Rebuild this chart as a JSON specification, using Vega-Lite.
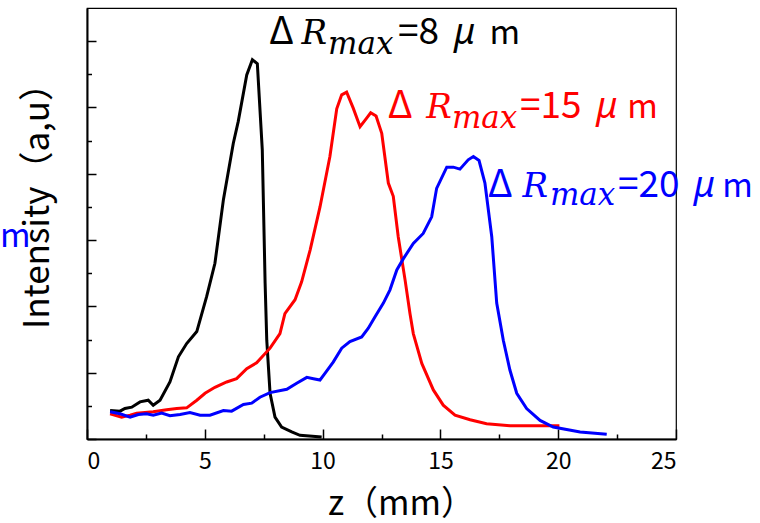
{
  "$schema": "https://vega.github.io/schema/vega-lite/v6.json",
  "width": 589,
  "height": 431,
  "autosize": "none",
  "padding": {"left": 87, "top": 8, "right": 84, "bottom": 84},
  "background": "white",
  "config": {
    "view": {"stroke": "#000000", "strokeWidth": 1.2},
    "axis": {"grid": false, "domainColor": "#000000", "domainWidth": 2, "tickColor": "#000000", "tickWidth": 1.5, "labelFont": "Noto Sans CJK JP", "titleFont": "Noto Sans CJK JP", "labelColor": "#000000", "titleColor": "#000000", "titleFontWeight": "normal"}
  },
  "datasets": {
    "curves": [
      {"series": "8", "z": 0.98, "I": 0.43},
      {"series": "8", "z": 1.40, "I": 0.42},
      {"series": "8", "z": 1.61, "I": 0.46},
      {"series": "8", "z": 1.90, "I": 0.48},
      {"series": "8", "z": 2.25, "I": 0.56},
      {"series": "8", "z": 2.60, "I": 0.585},
      {"series": "8", "z": 2.81, "I": 0.51},
      {"series": "8", "z": 3.10, "I": 0.585},
      {"series": "8", "z": 3.52, "I": 0.86},
      {"series": "8", "z": 3.88, "I": 1.24},
      {"series": "8", "z": 4.23, "I": 1.44},
      {"series": "8", "z": 4.66, "I": 1.62},
      {"series": "8", "z": 5.08, "I": 2.15},
      {"series": "8", "z": 5.43, "I": 2.65},
      {"series": "8", "z": 5.79, "I": 3.61},
      {"series": "8", "z": 6.21, "I": 4.46},
      {"series": "8", "z": 6.42, "I": 4.79},
      {"series": "8", "z": 6.78, "I": 5.49},
      {"series": "8", "z": 7.02, "I": 5.72},
      {"series": "8", "z": 7.23, "I": 5.66},
      {"series": "8", "z": 7.44, "I": 4.36},
      {"series": "8", "z": 7.56, "I": 2.35},
      {"series": "8", "z": 7.63, "I": 1.49},
      {"series": "8", "z": 7.77, "I": 0.69},
      {"series": "8", "z": 7.98, "I": 0.33},
      {"series": "8", "z": 8.26, "I": 0.18},
      {"series": "8", "z": 8.69, "I": 0.106},
      {"series": "8", "z": 9.04, "I": 0.056},
      {"series": "8", "z": 9.96, "I": 0.03},
      {"series": "15", "z": 0.98, "I": 0.38},
      {"series": "15", "z": 1.47, "I": 0.33},
      {"series": "15", "z": 1.83, "I": 0.36},
      {"series": "15", "z": 2.11, "I": 0.39},
      {"series": "15", "z": 2.81, "I": 0.41},
      {"series": "15", "z": 3.38, "I": 0.44},
      {"series": "15", "z": 3.81, "I": 0.46},
      {"series": "15", "z": 4.23, "I": 0.47},
      {"series": "15", "z": 4.66, "I": 0.585},
      {"series": "15", "z": 5.01, "I": 0.69},
      {"series": "15", "z": 5.43, "I": 0.78},
      {"series": "15", "z": 5.93, "I": 0.86},
      {"series": "15", "z": 6.35, "I": 0.91},
      {"series": "15", "z": 6.78, "I": 1.06},
      {"series": "15", "z": 7.20, "I": 1.15},
      {"series": "15", "z": 7.77, "I": 1.37},
      {"series": "15", "z": 8.19, "I": 1.59},
      {"series": "15", "z": 8.40, "I": 1.89},
      {"series": "15", "z": 8.83, "I": 2.10},
      {"series": "15", "z": 9.11, "I": 2.37},
      {"series": "15", "z": 9.47, "I": 2.85},
      {"series": "15", "z": 9.89, "I": 3.50},
      {"series": "15", "z": 10.31, "I": 4.26},
      {"series": "15", "z": 10.60, "I": 4.98},
      {"series": "15", "z": 10.81, "I": 5.19},
      {"series": "15", "z": 11.02, "I": 5.23},
      {"series": "15", "z": 11.30, "I": 4.99},
      {"series": "15", "z": 11.59, "I": 4.71},
      {"series": "15", "z": 11.87, "I": 4.84},
      {"series": "15", "z": 12.04, "I": 4.92},
      {"series": "15", "z": 12.27, "I": 4.87},
      {"series": "15", "z": 12.51, "I": 4.61},
      {"series": "15", "z": 12.79, "I": 3.86},
      {"series": "15", "z": 13.00, "I": 3.66},
      {"series": "15", "z": 13.21, "I": 3.05},
      {"series": "15", "z": 13.50, "I": 2.40},
      {"series": "15", "z": 13.71, "I": 1.89},
      {"series": "15", "z": 13.85, "I": 1.59},
      {"series": "15", "z": 14.21, "I": 1.14},
      {"series": "15", "z": 14.70, "I": 0.74},
      {"series": "15", "z": 15.12, "I": 0.51},
      {"series": "15", "z": 15.62, "I": 0.36},
      {"series": "15", "z": 16.26, "I": 0.29},
      {"series": "15", "z": 16.96, "I": 0.23},
      {"series": "15", "z": 17.95, "I": 0.20},
      {"series": "15", "z": 20.05, "I": 0.20},
      {"series": "20", "z": 0.98, "I": 0.41},
      {"series": "20", "z": 1.40, "I": 0.38},
      {"series": "20", "z": 1.83, "I": 0.33},
      {"series": "20", "z": 2.18, "I": 0.37},
      {"series": "20", "z": 2.53, "I": 0.38},
      {"series": "20", "z": 2.81, "I": 0.36},
      {"series": "20", "z": 3.17, "I": 0.39},
      {"series": "20", "z": 3.52, "I": 0.35},
      {"series": "20", "z": 3.95, "I": 0.37},
      {"series": "20", "z": 4.37, "I": 0.40},
      {"series": "20", "z": 4.80, "I": 0.36},
      {"series": "20", "z": 5.22, "I": 0.36},
      {"series": "20", "z": 5.79, "I": 0.43},
      {"series": "20", "z": 6.14, "I": 0.42},
      {"series": "20", "z": 6.64, "I": 0.52},
      {"series": "20", "z": 6.99, "I": 0.54},
      {"series": "20", "z": 7.34, "I": 0.63},
      {"series": "20", "z": 7.77, "I": 0.70},
      {"series": "20", "z": 8.48, "I": 0.75},
      {"series": "20", "z": 8.90, "I": 0.84},
      {"series": "20", "z": 9.33, "I": 0.93},
      {"series": "20", "z": 9.61, "I": 0.91},
      {"series": "20", "z": 9.89, "I": 0.89},
      {"series": "20", "z": 10.10, "I": 0.99},
      {"series": "20", "z": 10.45, "I": 1.16},
      {"series": "20", "z": 10.81, "I": 1.37},
      {"series": "20", "z": 11.16, "I": 1.47},
      {"series": "20", "z": 11.66, "I": 1.54},
      {"series": "20", "z": 11.94, "I": 1.67},
      {"series": "20", "z": 12.22, "I": 1.84},
      {"series": "20", "z": 12.58, "I": 2.05},
      {"series": "20", "z": 12.86, "I": 2.25},
      {"series": "20", "z": 13.15, "I": 2.55},
      {"series": "20", "z": 13.43, "I": 2.72},
      {"series": "20", "z": 13.85, "I": 2.95},
      {"series": "20", "z": 14.27, "I": 3.10},
      {"series": "20", "z": 14.63, "I": 3.35},
      {"series": "20", "z": 14.84, "I": 3.78},
      {"series": "20", "z": 15.27, "I": 4.10},
      {"series": "20", "z": 15.55, "I": 4.10},
      {"series": "20", "z": 15.83, "I": 4.07},
      {"series": "20", "z": 16.18, "I": 4.21},
      {"series": "20", "z": 16.40, "I": 4.26},
      {"series": "20", "z": 16.64, "I": 4.20},
      {"series": "20", "z": 16.89, "I": 3.86},
      {"series": "20", "z": 17.18, "I": 3.05},
      {"series": "20", "z": 17.39, "I": 2.05},
      {"series": "20", "z": 17.67, "I": 1.49},
      {"series": "20", "z": 17.95, "I": 1.04},
      {"series": "20", "z": 18.24, "I": 0.69},
      {"series": "20", "z": 18.66, "I": 0.46},
      {"series": "20", "z": 19.23, "I": 0.28},
      {"series": "20", "z": 19.79, "I": 0.18},
      {"series": "20", "z": 20.93, "I": 0.106},
      {"series": "20", "z": 22.06, "I": 0.07}
    ],
    "labels": [
      {"series": "8", "part": "delta", "text": "Δ", "z": 7.72, "I": 5.95},
      {"series": "8", "part": "R", "text": "R", "z": 9.10, "I": 5.95},
      {"series": "8", "part": "max", "text": "max", "z": 10.23, "I": 5.80},
      {"series": "8", "part": "num", "text": "=8", "z": 13.20, "I": 5.95},
      {"series": "8", "part": "mu", "text": "μ", "z": 15.58, "I": 5.95},
      {"series": "8", "part": "m", "text": "m", "z": 17.08, "I": 5.95},
      {"series": "15", "part": "delta", "text": "Δ", "z": 12.77, "I": 4.84},
      {"series": "15", "part": "R", "text": "R", "z": 14.40, "I": 4.84},
      {"series": "15", "part": "max", "text": "max", "z": 15.49, "I": 4.69},
      {"series": "15", "part": "num", "text": "=15", "z": 18.38, "I": 4.84},
      {"series": "15", "part": "mu", "text": "μ", "z": 21.62, "I": 4.84},
      {"series": "15", "part": "m", "text": "m", "z": 22.93, "I": 4.84},
      {"series": "20", "part": "delta", "text": "Δ", "z": 17.01, "I": 3.65},
      {"series": "20", "part": "R", "text": "R", "z": 18.48, "I": 3.65},
      {"series": "20", "part": "max", "text": "max", "z": 19.65, "I": 3.53},
      {"series": "20", "part": "num", "text": "=20", "z": 22.54, "I": 3.65},
      {"series": "20", "part": "mu", "text": "μ", "z": 25.75, "I": 3.65},
      {"series": "20", "part": "m", "text": "m", "z": 26.96, "I": 3.65},
      {"series": "20", "part": "m", "text": "m", "z": -3.69, "I": 2.90}
    ]
  },
  "encoding": {
    "x": {"field": "z", "type": "quantitative", "scale": {"domain": [0, 25], "nice": false, "zero": false},
      "axis": {"title": "z（mm）", "titleFontSize": 34, "labelFontSize": 23, "labelPadding": 21, "titlePadding": 14, "titleX": 314,
        "values": [0, 2.5, 5, 7.5, 10, 12.5, 15, 17.5, 20, 22.5, 25],
        "labelExpr": "datum.value % 5 === 0 ? datum.label : ''",
        "tickSize": {"condition": {"test": "datum.value % 1 === 0", "value": -10}, "value": -5}}},
    "y": {"field": "I", "type": "quantitative", "scale": {"domain": [0, 6.5], "nice": false, "zero": false},
      "axis": {"title": "Intensity（a,u）", "titleFontSize": 35, "labels": false, "titlePadding": 31, "titleY": 189,
        "values": [0, 0.5, 1, 1.5, 2, 2.5, 3, 3.5, 4, 4.5, 5, 5.5, 6],
        "tickSize": {"condition": {"test": "datum.value % 1 === 0", "value": -9}, "value": -4.5}}},
    "color": {"field": "series", "type": "nominal", "scale": {"domain": ["8", "15", "20"], "range": ["#000000", "#ff0000", "#0000ff"]}, "legend": null}
  },
  "layer": [
    {"data": {"name": "curves"}, "mark": {"type": "line", "strokeWidth": 3, "clip": true}},
    {"data": {"name": "labels"}, "transform": [{"filter": "datum.part === 'delta'"}],
      "mark": {"type": "text", "align": "left", "baseline": "alphabetic", "font": "Noto Sans CJK JP", "fontSize": 38},
      "encoding": {"text": {"field": "text"}}},
    {"data": {"name": "labels"}, "transform": [{"filter": "datum.part === 'R'"}],
      "mark": {"type": "text", "align": "left", "baseline": "alphabetic", "font": "DejaVu Serif", "fontStyle": "italic", "fontSize": 34},
      "encoding": {"text": {"field": "text"}}},
    {"data": {"name": "labels"}, "transform": [{"filter": "datum.part === 'max'"}],
      "mark": {"type": "text", "align": "left", "baseline": "alphabetic", "font": "DejaVu Serif", "fontStyle": "italic", "fontSize": 31},
      "encoding": {"text": {"field": "text"}}},
    {"data": {"name": "labels"}, "transform": [{"filter": "datum.part === 'num'"}],
      "mark": {"type": "text", "align": "left", "baseline": "alphabetic", "font": "Noto Sans CJK JP", "fontSize": 37},
      "encoding": {"text": {"field": "text"}}},
    {"data": {"name": "labels"}, "transform": [{"filter": "datum.part === 'mu'"}],
      "mark": {"type": "text", "align": "left", "baseline": "alphabetic", "font": "Noto Sans", "fontStyle": "italic", "fontSize": 36},
      "encoding": {"text": {"field": "text"}}},
    {"data": {"name": "labels"}, "transform": [{"filter": "datum.part === 'm'"}],
      "mark": {"type": "text", "align": "left", "baseline": "alphabetic", "font": "Noto Sans CJK JP", "fontSize": 33},
      "encoding": {"text": {"field": "text"}}}
  ]
}
